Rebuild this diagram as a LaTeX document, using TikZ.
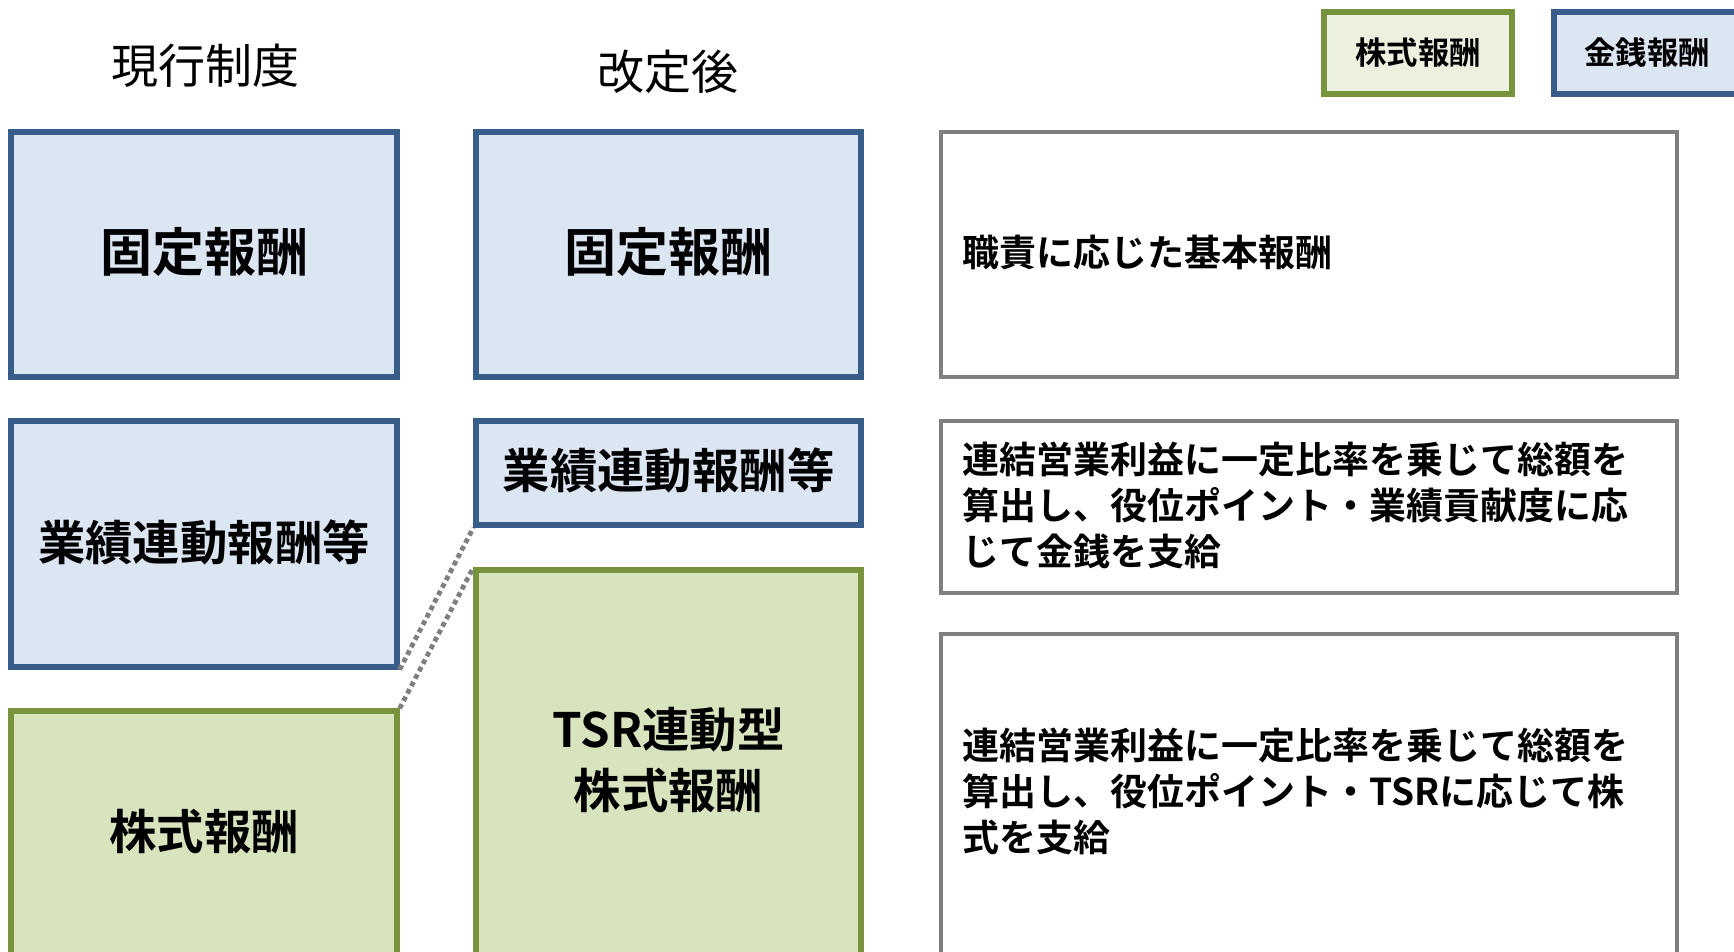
\documentclass[tikz,border=0pt]{standalone}
\usepackage{fontspec}
\newfontfamily\jp{Noto Sans CJK JP}[BoldFont={Noto Sans CJK JP Bold}]
\definecolor{bluebd}{HTML}{385D8A}
\definecolor{bluefill}{HTML}{DCE6F2}
\definecolor{greenbd}{HTML}{77933C}
\definecolor{greenfill}{HTML}{D7E4BD}
\definecolor{greenlight}{HTML}{EBF1DE}
\definecolor{graybd}{HTML}{7F7F7F}
\begin{document}
\begin{tikzpicture}[x=0.5pt,y=-0.5pt,
  box/.style={rectangle, inner sep=0pt, line width=2.6pt},
  bluebox/.style={box, draw=bluebd, fill=bluefill},
  greenbox/.style={box, draw=greenbd, fill=greenfill},
  legendgreen/.style={box, draw=greenbd, fill=greenlight},
  graybox/.style={box, draw=graybd, fill=white, line width=2.4pt},
  head/.style={inner sep=0pt, font=\jp\fontsize{23.5}{28}\selectfont},
  bigtxt/.style={inner sep=0pt, font=\jp\bfseries\fontsize{26}{30}\selectfont},
  midtxt/.style={inner sep=0pt, align=center, font=\jp\bfseries\fontsize{23.7}{30.5}\selectfont},
  desc/.style={inner sep=0pt, anchor=west, align=left, font=\jp\bfseries\fontsize{18.5}{23}\selectfont},
  legtxt/.style={inner sep=0pt, font=\jp\bfseries\fontsize{15.7}{18}\selectfont},
  dotline/.style={draw=graybd, line width=2.4pt, dash pattern=on 2.4pt off 1.8pt}
]
\useasboundingbox (0,0) rectangle (1734,952);
\fill[white] (0,0) rectangle (1734,952);

% headers
\node[head] (hcur) at (205,66) {現行制度};
\node[head] (hnew) at (668,72) {改定後};

% legend
\node[legendgreen, minimum width=94pt, minimum height=41pt] (legS) at (1418,53) {};
\node[legtxt] (legSt) at (legS.center) {株式報酬};
\node[bluebox, minimum width=93pt, minimum height=41pt] (legM) at (1647,53) {};
\node[legtxt] (legMt) at (legM.center) {金銭報酬};

% current system
\node[bluebox, minimum width=193pt, minimum height=122.5pt] (curFix) at (204,254.5) {};
\node[bigtxt] (curFixT) at (204,252) {固定報酬};
\node[bluebox, minimum width=193pt, minimum height=123pt] (curLink) at (204,544) {};
\node[midtxt] (curLinkT) at (204,542) {業績連動報酬等};
\node[greenbox, minimum width=193pt, minimum height=129.5pt] (curStock) at (204,840.5) {};
\node[midtxt] (curStockT) at (204,832) {株式報酬};

% revised system
\node[bluebox, minimum width=192.5pt, minimum height=122.5pt] (newFix) at (668.5,254.5) {};
\node[bigtxt] (newFixT) at (668.5,252) {固定報酬};
\node[bluebox, minimum width=192.5pt, minimum height=52pt] (newLink) at (668.5,473) {};
\node[midtxt] (newLinkT) at (668.5,470) {業績連動報酬等};
\node[greenbox, minimum width=192.5pt, minimum height=200pt] (newTSR) at (668.5,770) {};
\node[midtxt] (newTSRT) at (668.5,760) {TSR連動型\\株式報酬};

% descriptions
\node[graybox, minimum width=368pt, minimum height=122.5pt] (d1) at (1309,254.5) {};
\node[desc] (d1t) at (962,252) {職責に応じた基本報酬};
\node[graybox, minimum width=368pt, minimum height=86pt] (d2) at (1309,507) {};
\node[desc] (d2t) at (962,505) {連結営業利益に一定比率を乗じて総額を\\算出し、役位ポイント・業績貢献度に応\\じて金銭を支給};
\node[graybox, minimum width=368pt, minimum height=168pt] (d3) at (1309,802) {};
\node[desc] (d3t) at (962,791) {連結営業利益に一定比率を乗じて総額を\\算出し、役位ポイント・TSRに応じて株\\式を支給};

% dotted connectors
\draw[dotline] (curLink.south east) -- (newLink.south west);
\draw[dotline] (curStock.north east) -- (newTSR.north west);
\end{tikzpicture}
\end{document}
